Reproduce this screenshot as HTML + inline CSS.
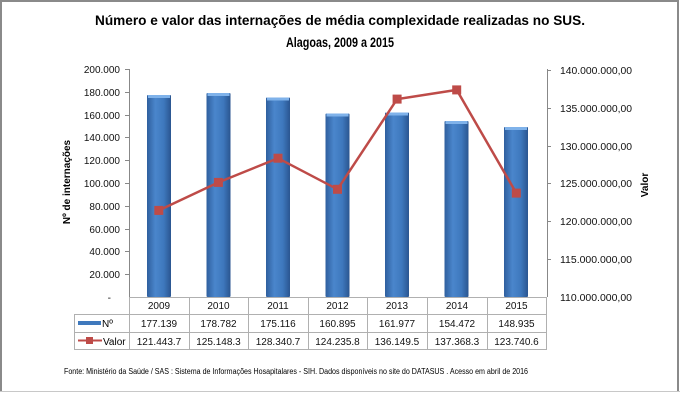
<!DOCTYPE html>
<html><head><meta charset="utf-8"><style>
body{margin:0;background:#fff}
svg{display:block;font-family:"Liberation Sans",sans-serif}
</style></head><body>
<svg width="680" height="400" viewBox="0 0 680 400" xmlns="http://www.w3.org/2000/svg">
<defs>
<linearGradient id="bg" x1="0" x2="1" y1="0" y2="0">
<stop offset="0" stop-color="#2f5f9e"/><stop offset="0.35" stop-color="#4a86cc"/><stop offset="0.7" stop-color="#3e78bd"/><stop offset="1" stop-color="#2a5590"/>
</linearGradient>
</defs>
<rect x="0" y="0" width="680" height="400" fill="#fff"/>
<path d="M1 392 V1 H678 V392" fill="none" stroke="#8a8a8a" stroke-width="2"/>
<line x1="0" y1="391.5" x2="680" y2="391.5" stroke="#c8c8c8"/>
<text x="340" y="25" text-anchor="middle" font-weight="bold" font-size="14" textLength="490" lengthAdjust="spacingAndGlyphs">Número e valor das internações de média complexidade realizadas no SUS.</text>
<text x="340" y="47" text-anchor="middle" font-weight="bold" font-size="14" textLength="108" lengthAdjust="spacingAndGlyphs">Alagoas, 2009 a 2015</text>
<!-- left axis -->
<line x1="129.5" y1="69" x2="129.5" y2="297" stroke="#888"/>
<g stroke="#888">
<line x1="125" y1="69.5" x2="129" y2="69.5"/><line x1="125" y1="92.5" x2="129" y2="92.5"/><line x1="125" y1="115.5" x2="129" y2="115.5"/><line x1="125" y1="137.5" x2="129" y2="137.5"/><line x1="125" y1="160.5" x2="129" y2="160.5"/><line x1="125" y1="183.5" x2="129" y2="183.5"/><line x1="125" y1="206.5" x2="129" y2="206.5"/><line x1="125" y1="229.5" x2="129" y2="229.5"/><line x1="125" y1="251.5" x2="129" y2="251.5"/><line x1="125" y1="274.5" x2="129" y2="274.5"/>
</g>
<g font-size="10" text-anchor="end" fill="#111">
<text x="120" y="73">200.000</text><text x="120" y="96">180.000</text><text x="120" y="119">160.000</text><text x="120" y="141">140.000</text><text x="120" y="164">120.000</text><text x="120" y="187">100.000</text><text x="120" y="210">80.000</text><text x="120" y="233">60.000</text><text x="120" y="255">40.000</text><text x="120" y="278">20.000</text><text x="111" y="301">-</text>
</g>
<text transform="translate(70,182) rotate(-90)" text-anchor="middle" font-size="10" font-weight="bold">Nº de internações</text>
<!-- right axis -->
<line x1="547.5" y1="69" x2="547.5" y2="297" stroke="#888"/>
<g stroke="#888">
<line x1="547" y1="70.5" x2="551" y2="70.5"/><line x1="547" y1="108.5" x2="551" y2="108.5"/><line x1="547" y1="146.5" x2="551" y2="146.5"/><line x1="547" y1="183.5" x2="551" y2="183.5"/><line x1="547" y1="221.5" x2="551" y2="221.5"/><line x1="547" y1="259.5" x2="551" y2="259.5"/>
</g>
<g font-size="10" fill="#111">
<text x="560" y="74" textLength="72" lengthAdjust="spacingAndGlyphs">140.000.000,00</text>
<text x="560" y="112" textLength="72" lengthAdjust="spacingAndGlyphs">135.000.000,00</text>
<text x="560" y="150" textLength="72" lengthAdjust="spacingAndGlyphs">130.000.000,00</text>
<text x="560" y="187" textLength="72" lengthAdjust="spacingAndGlyphs">125.000.000,00</text>
<text x="560" y="225" textLength="72" lengthAdjust="spacingAndGlyphs">120.000.000,00</text>
<text x="560" y="263" textLength="72" lengthAdjust="spacingAndGlyphs">115.000.000,00</text>
<text x="560" y="301" textLength="72" lengthAdjust="spacingAndGlyphs">110.000.000,00</text>
</g>
<text transform="translate(648,185) rotate(-90)" text-anchor="middle" font-size="10" font-weight="bold">Valor</text>
<!-- bars -->
<g fill="url(#bg)">
<rect x="147" y="95" width="24" height="202" rx="1"/>
<rect x="206.5" y="93" width="24" height="204" rx="1"/>
<rect x="266" y="97.5" width="24" height="199.5" rx="1"/>
<rect x="325.5" y="113.5" width="24" height="183.5" rx="1"/>
<rect x="385" y="112.5" width="24" height="184.5" rx="1"/>
<rect x="444.5" y="121" width="24" height="176" rx="1"/>
<rect x="504" y="127" width="24" height="170" rx="1"/>
</g>
<g fill="#7fb2ea">
<rect x="148" y="95" width="22" height="3"/><rect x="207.5" y="93" width="22" height="3"/><rect x="267" y="97.5" width="22" height="3"/><rect x="326.5" y="113.5" width="22" height="3"/><rect x="386" y="112.5" width="22" height="3"/><rect x="445.5" y="121" width="22" height="3"/><rect x="505" y="127" width="22" height="3"/>
</g>
<!-- line -->
<polyline points="158.8,210.4 218.4,182.4 278,158.2 337.5,189.3 397.1,99.1 456.7,89.9 516.3,193.1" fill="none" stroke="#be4b48" stroke-width="2.5"/>
<g fill="#be4b48">
<rect x="154.3" y="205.9" width="9" height="9"/><rect x="213.9" y="177.9" width="9" height="9"/><rect x="273.5" y="153.7" width="9" height="9"/><rect x="333" y="184.8" width="9" height="9"/><rect x="392.6" y="94.6" width="9" height="9"/><rect x="452.2" y="85.4" width="9" height="9"/><rect x="511.8" y="188.6" width="9" height="9"/>
</g>
<!-- table -->
<g stroke="#b0b0b0" fill="none">
<line x1="129" y1="297.5" x2="546" y2="297.5"/>
<line x1="74" y1="314.5" x2="546" y2="314.5"/>
<line x1="74" y1="332.5" x2="546" y2="332.5"/>
<line x1="74" y1="349.5" x2="546" y2="349.5"/>
<line x1="74.5" y1="314" x2="74.5" y2="350"/>
<line x1="129.5" y1="297" x2="129.5" y2="350"/>
<line x1="189.5" y1="297" x2="189.5" y2="350"/>
<line x1="248.5" y1="297" x2="248.5" y2="350"/>
<line x1="308.5" y1="297" x2="308.5" y2="350"/>
<line x1="367.5" y1="297" x2="367.5" y2="350"/>
<line x1="427.5" y1="297" x2="427.5" y2="350"/>
<line x1="487.5" y1="297" x2="487.5" y2="350"/>
<line x1="546.5" y1="297" x2="546.5" y2="350"/>
</g>
<g font-size="10" text-anchor="middle" fill="#111">
<text x="159" y="309">2009</text><text x="218.5" y="309">2010</text><text x="278" y="309">2011</text><text x="337.5" y="309">2012</text><text x="397" y="309">2013</text><text x="457" y="309">2014</text><text x="516.5" y="309">2015</text>
<text x="159" y="327">177.139</text><text x="218.5" y="327">178.782</text><text x="278" y="327">175.116</text><text x="337.5" y="327">160.895</text><text x="397" y="327">161.977</text><text x="457" y="327">154.472</text><text x="516.5" y="327">148.935</text>
<text x="159" y="345">121.443.7</text><text x="218.5" y="345">125.148.3</text><text x="278" y="345">128.340.7</text><text x="337.5" y="345">124.235.8</text><text x="397" y="345">136.149.5</text><text x="457" y="345">137.368.3</text><text x="516.5" y="345">123.740.6</text>
</g>
<rect x="78" y="321" width="23" height="4" fill="#3f79bd"/>
<text x="102" y="327" font-size="10">Nº</text>
<line x1="78" y1="340.5" x2="102" y2="340.5" stroke="#be4b48" stroke-width="2"/>
<rect x="86" y="337" width="7" height="7" fill="#be4b48"/>
<text x="103" y="345" font-size="10">Valor</text>
<text x="64" y="374" font-size="8" textLength="464" lengthAdjust="spacingAndGlyphs">Fonte:  Ministério da Saúde  / SAS : Sistema de Informações Hosapitalares - SIH. Dados disponíveis no site do DATASUS . Acesso em abril de 2016</text>
</svg>
</body></html>
